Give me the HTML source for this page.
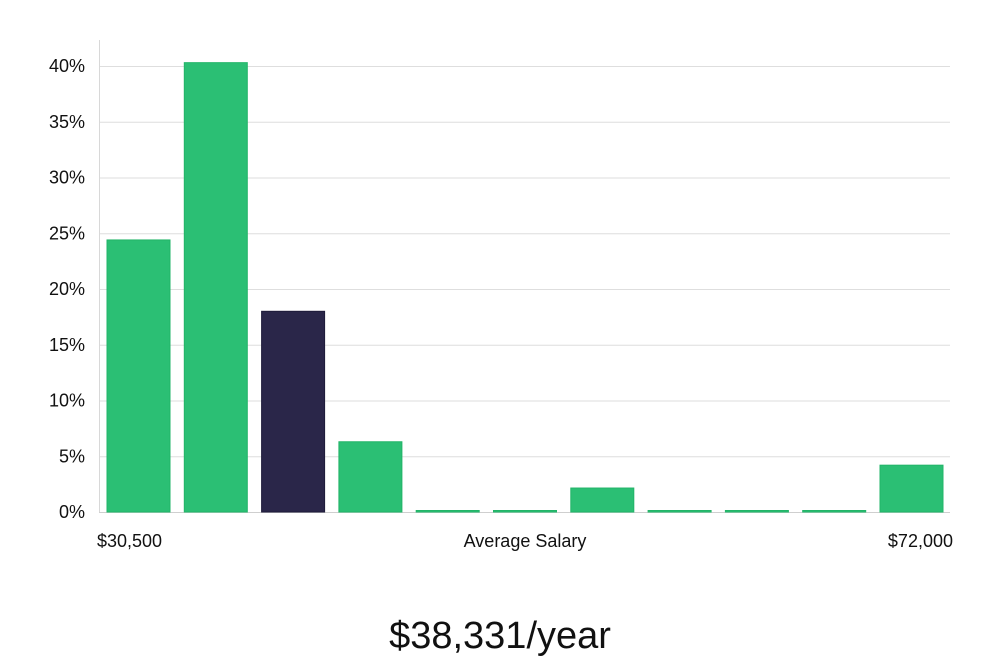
<!DOCTYPE html>
<html><head><meta charset="utf-8"><style>
body{margin:0;background:#fff;width:1000px;height:660px;overflow:hidden;font-family:"Liberation Sans","DejaVu Sans",sans-serif}
</style></head><body>
<svg width="1000" height="660">
<g id="grid"></g><g id="bars"></g>
<line x1="99.5" y1="40" x2="99.5" y2="512" stroke="#d8d8d8"/>
<text x="97" y="547" font-size="18" fill="#111">$30,500</text>
<text x="525" y="547" font-size="18" fill="#111" text-anchor="middle">Average Salary</text>
<text x="953" y="547" font-size="18" fill="#111" text-anchor="end">$72,000</text>
<text x="500" y="648" font-size="38" fill="#111" text-anchor="middle">$38,331/year</text>
</svg>
<script>
const categories=["b1","b2","b3","b4","b5","b6","b7","b8","b9","b10","b11"];
const values=[24.4,40.3,18.0,6.3,0,0,2.15,0,0,0,4.2];
const highlight=[false,false,true,false,false,false,false,false,false,false,false];
const yTicks=[0,5,10,15,20,25,30,35,40];
const ns="http://www.w3.org/2000/svg";
const y0=512,pxPer=11.15,x0=107,step=77.3,bw=63;
const y=v=>y0-v*pxPer;
const x=i=>x0+i*step;
const g=document.getElementById("grid"),b=document.getElementById("bars");
yTicks.forEach(t=>{
 const l=document.createElementNS(ns,"line");
 
 
 l.setAttribute("x1",99);l.setAttribute("x2",950);l.setAttribute("y1",y(t)+0.5);l.setAttribute("y2",y(t)+0.5);
 l.setAttribute("stroke",t===0?"#cfcfcf":"#dedede");g.appendChild(l);
 const tx=document.createElementNS(ns,"text");
 
 
 tx.setAttribute("x",85);tx.setAttribute("y",y(t)+6);tx.setAttribute("text-anchor","end");
 tx.setAttribute("font-size","18");tx.setAttribute("fill","#111");tx.textContent=t+"%";g.appendChild(tx);
});
values.forEach((v,i)=>{
 const r=document.createElementNS(ns,"rect");
 
 
 const h=Math.max(v*pxPer,1.5);
 r.setAttribute("x",x(i));r.setAttribute("width",bw);r.setAttribute("y",y0-h);r.setAttribute("height",h);
 r.setAttribute("fill",highlight[i]?"#2a2649":"#2bbf74");
 r.setAttribute("stroke",highlight[i]?"#1e1b3a":"#22b468");r.setAttribute("stroke-width","1");
 b.appendChild(r);
});
</script>
</body></html>
